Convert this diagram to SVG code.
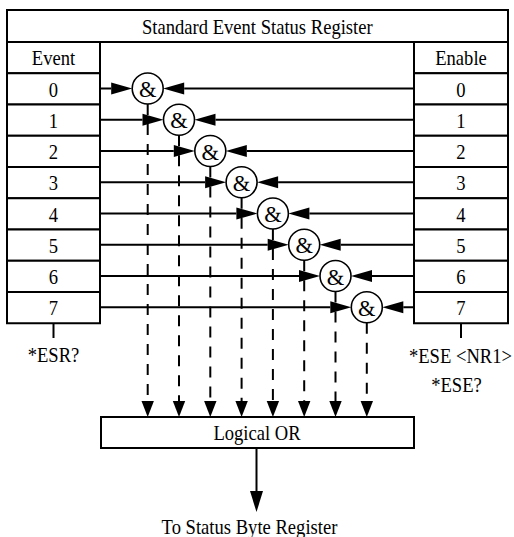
<svg xmlns="http://www.w3.org/2000/svg" width="514" height="537" viewBox="0 0 514 537">
<defs>
<style>
.box{fill:#fff;stroke:#000;stroke-width:2}
.t{font-family:"Liberation Serif","Times New Roman",serif;font-size:18.6px;text-anchor:middle;fill:#000}
.amp{font-family:"Liberation Serif","Times New Roman",serif;font-size:22.5px;text-anchor:middle;fill:#000}
.gate{fill:#fff;stroke:#000;stroke-width:1.6}
.ln{stroke:#000;stroke-width:2;fill:none}
.dash{stroke:#000;stroke-width:2;fill:none;stroke-dasharray:11 9}
</style>
<marker id="ah" markerUnits="userSpaceOnUse" markerWidth="24" markerHeight="16" refX="0" refY="8" orient="auto" overflow="visible"><path d="M0,2 L21,8 L0,14 z" fill="#000"/></marker>
<marker id="ahs" markerUnits="userSpaceOnUse" markerWidth="20" markerHeight="16" refX="0" refY="8" orient="auto" overflow="visible"><path d="M0,1.8 L16,8 L0,14.2 z" fill="#000"/></marker>
<marker id="ahb" markerUnits="userSpaceOnUse" markerWidth="24" markerHeight="16" refX="0" refY="8" orient="auto" overflow="visible"><path d="M0,1.5 L21,8 L0,14.5 z" fill="#000"/></marker>
</defs>
<rect width="514" height="537" fill="#fff"/>

<g id="register">
<rect class="box" x="7" y="10" width="501" height="32"/>
<text class="t" transform="translate(257.3,33.5) scale(1,1.12)">Standard Event Status Register</text>
</g>

<g id="event-column">
<rect class="box" x="7" y="42" width="93" height="31.25"/>
<text class="t" transform="translate(53.5,65) scale(1,1.12)">Event</text>
<rect class="box" x="7" y="73.25" width="93" height="31.25"/>
<rect class="box" x="7" y="104.5" width="93" height="31.25"/>
<rect class="box" x="7" y="135.75" width="93" height="31.25"/>
<rect class="box" x="7" y="167" width="93" height="31.25"/>
<rect class="box" x="7" y="198.25" width="93" height="31.25"/>
<rect class="box" x="7" y="229.5" width="93" height="31.25"/>
<rect class="box" x="7" y="260.75" width="93" height="31.25"/>
<rect class="box" x="7" y="292" width="93" height="31.25"/>
<text class="t" transform="translate(53.5,96.7) scale(1,1.12)">0</text>
<text class="t" transform="translate(53.5,127.95) scale(1,1.12)">1</text>
<text class="t" transform="translate(53.5,159.2) scale(1,1.12)">2</text>
<text class="t" transform="translate(53.5,190.45) scale(1,1.12)">3</text>
<text class="t" transform="translate(53.5,221.7) scale(1,1.12)">4</text>
<text class="t" transform="translate(53.5,252.95) scale(1,1.12)">5</text>
<text class="t" transform="translate(53.5,284.2) scale(1,1.12)">6</text>
<text class="t" transform="translate(53.5,315.45) scale(1,1.12)">7</text>
</g>

<g id="enable-column">
<rect class="box" x="414" y="42" width="94" height="31.25"/>
<text class="t" transform="translate(461,65) scale(1,1.12)">Enable</text>
<rect class="box" x="414" y="73.25" width="94" height="31.25"/>
<rect class="box" x="414" y="104.5" width="94" height="31.25"/>
<rect class="box" x="414" y="135.75" width="94" height="31.25"/>
<rect class="box" x="414" y="167" width="94" height="31.25"/>
<rect class="box" x="414" y="198.25" width="94" height="31.25"/>
<rect class="box" x="414" y="229.5" width="94" height="31.25"/>
<rect class="box" x="414" y="260.75" width="94" height="31.25"/>
<rect class="box" x="414" y="292" width="94" height="31.25"/>
<text class="t" transform="translate(461,96.7) scale(1,1.12)">0</text>
<text class="t" transform="translate(461,127.95) scale(1,1.12)">1</text>
<text class="t" transform="translate(461,159.2) scale(1,1.12)">2</text>
<text class="t" transform="translate(461,190.45) scale(1,1.12)">3</text>
<text class="t" transform="translate(461,221.7) scale(1,1.12)">4</text>
<text class="t" transform="translate(461,252.95) scale(1,1.12)">5</text>
<text class="t" transform="translate(461,284.2) scale(1,1.12)">6</text>
<text class="t" transform="translate(461,315.45) scale(1,1.12)">7</text>
</g>

<g id="connectors">
<!-- event inputs -->
<line class="ln" x1="100" y1="88.5" x2="111.2" y2="88.5" marker-end="url(#ah)"/>
<line class="ln" x1="100" y1="119.75" x2="142.5" y2="119.75" marker-end="url(#ah)"/>
<line class="ln" x1="100" y1="151" x2="173.8" y2="151" marker-end="url(#ah)"/>
<line class="ln" x1="100" y1="182.25" x2="205.1" y2="182.25" marker-end="url(#ah)"/>
<line class="ln" x1="100" y1="213.5" x2="236.4" y2="213.5" marker-end="url(#ah)"/>
<line class="ln" x1="100" y1="244.75" x2="267.7" y2="244.75" marker-end="url(#ah)"/>
<line class="ln" x1="100" y1="276" x2="299" y2="276" marker-end="url(#ah)"/>
<line class="ln" x1="100" y1="307.25" x2="330.3" y2="307.25" marker-end="url(#ah)"/>
<!-- enable inputs -->
<line class="ln" x1="414" y1="88.5" x2="184.2" y2="88.5" marker-end="url(#ah)"/>
<line class="ln" x1="414" y1="119.75" x2="215.5" y2="119.75" marker-end="url(#ah)"/>
<line class="ln" x1="414" y1="151" x2="246.8" y2="151" marker-end="url(#ah)"/>
<line class="ln" x1="414" y1="182.25" x2="278.1" y2="182.25" marker-end="url(#ah)"/>
<line class="ln" x1="414" y1="213.5" x2="309.4" y2="213.5" marker-end="url(#ah)"/>
<line class="ln" x1="414" y1="244.75" x2="340.7" y2="244.75" marker-end="url(#ah)"/>
<line class="ln" x1="414" y1="276" x2="372" y2="276" marker-end="url(#ah)"/>
<line class="ln" x1="414" y1="307.25" x2="403.3" y2="307.25" marker-end="url(#ah)"/>
<!-- gate outputs to OR -->
<line class="dash" x1="147.7" y1="104" x2="147.7" y2="401" marker-end="url(#ahs)"/>
<line class="dash" x1="179" y1="135.25" x2="179" y2="401" marker-end="url(#ahs)"/>
<line class="dash" x1="210.3" y1="166.5" x2="210.3" y2="401" marker-end="url(#ahs)"/>
<line class="dash" x1="241.6" y1="197.75" x2="241.6" y2="401" marker-end="url(#ahs)"/>
<line class="dash" x1="272.9" y1="229" x2="272.9" y2="401" marker-end="url(#ahs)"/>
<line class="dash" x1="304.2" y1="260.25" x2="304.2" y2="401" marker-end="url(#ahs)"/>
<line class="dash" x1="335.5" y1="291.5" x2="335.5" y2="401" marker-end="url(#ahs)"/>
<line class="dash" x1="366.8" y1="322.75" x2="366.8" y2="401" marker-end="url(#ahs)"/>
<!-- query ticks -->
<line class="ln" x1="53.5" y1="323.25" x2="53.5" y2="338"/>
<line class="ln" x1="461" y1="323.25" x2="461" y2="338"/>
<!-- OR output -->
<line class="ln" x1="256.5" y1="448" x2="256.5" y2="491" marker-end="url(#ahb)"/>
</g>

<g id="gate0"><circle class="gate" cx="147.7" cy="88.5" r="15.5"/><text class="amp" x="147.7" y="97">&amp;</text></g>
<g id="gate1"><circle class="gate" cx="179" cy="119.75" r="15.5"/><text class="amp" x="179" y="128.25">&amp;</text></g>
<g id="gate2"><circle class="gate" cx="210.3" cy="151" r="15.5"/><text class="amp" x="210.3" y="159.5">&amp;</text></g>
<g id="gate3"><circle class="gate" cx="241.6" cy="182.25" r="15.5"/><text class="amp" x="241.6" y="190.75">&amp;</text></g>
<g id="gate4"><circle class="gate" cx="272.9" cy="213.5" r="15.5"/><text class="amp" x="272.9" y="222">&amp;</text></g>
<g id="gate5"><circle class="gate" cx="304.2" cy="244.75" r="15.5"/><text class="amp" x="304.2" y="253.25">&amp;</text></g>
<g id="gate6"><circle class="gate" cx="335.5" cy="276" r="15.5"/><text class="amp" x="335.5" y="284.5">&amp;</text></g>
<g id="gate7"><circle class="gate" cx="366.8" cy="307.25" r="15.5"/><text class="amp" x="366.8" y="315.75">&amp;</text></g>

<g id="esr-query"><text class="t" transform="translate(53.5,362) scale(1,1.12)">*ESR?</text></g>
<g id="ese-commands">
<text class="t" transform="translate(460.5,363) scale(1,1.12)">*ESE &lt;NR1&gt;</text>
<text class="t" transform="translate(456.5,392) scale(1,1.12)">*ESE?</text>
</g>

<g id="logical-or">
<rect class="box" x="101" y="417" width="313" height="31"/>
<text class="t" transform="translate(257,440) scale(1,1.12)">Logical OR</text>
</g>

<g id="status-byte">
<text class="t" transform="translate(249.5,534) scale(1,1.12)">To Status Byte Register</text>
</g>
</svg>
